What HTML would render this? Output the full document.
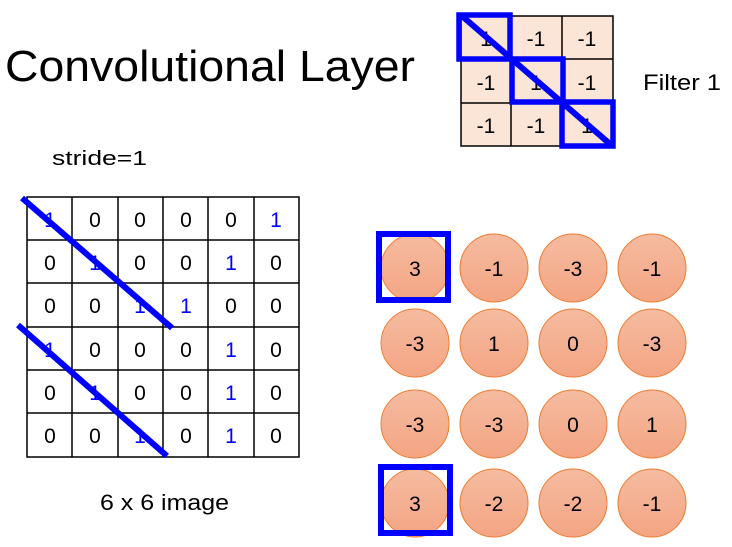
<!DOCTYPE html>
<html><head><style>body{margin:0;background:#fff}svg{display:block}</style></head><body>
<svg width="732" height="547" viewBox="0 0 732 547" xmlns="http://www.w3.org/2000/svg" font-family="Liberation Sans, sans-serif">
<defs>
<linearGradient id="g" x1="0" y1="0" x2="0" y2="1"><stop offset="0" stop-color="#f5bba0"/><stop offset="1" stop-color="#f4a583"/></linearGradient>
</defs>
<text x="5" y="81" font-size="44" textLength="410" lengthAdjust="spacingAndGlyphs">Convolutional Layer</text>
<text x="643" y="90" font-size="22" textLength="78" lengthAdjust="spacingAndGlyphs">Filter 1</text>
<text x="52" y="165" font-size="20" textLength="95" lengthAdjust="spacingAndGlyphs">stride=1</text>
<text x="100" y="510" font-size="22" textLength="129" lengthAdjust="spacingAndGlyphs">6 x 6 image</text>
<!-- filter -->
<rect x="461" y="16" width="152" height="130" fill="#fbe5d6" stroke="#000" stroke-width="1.5"/>
<g stroke="#000" stroke-width="1.5">
<line x1="511" y1="16" x2="511" y2="146"/><line x1="562" y1="16" x2="562" y2="146"/>
<line x1="461" y1="59" x2="613" y2="59"/><line x1="461" y1="103" x2="613" y2="103"/>
</g>
<g font-size="21" text-anchor="middle">
<text x="486" y="46">1</text><text x="536" y="46">-1</text><text x="587" y="46">-1</text>
<text x="486" y="90">-1</text><text x="536" y="90">1</text><text x="587" y="90">-1</text>
<text x="486" y="133">-1</text><text x="536" y="133">-1</text><text x="587" y="133">1</text>
</g>
<g fill="none" stroke="#0000ff" stroke-width="5.5">
<rect x="459" y="15" width="51" height="44"/>
<rect x="512" y="59" width="51" height="43"/>
<rect x="562" y="102" width="51" height="44"/>
</g>
<line x1="462" y1="16" x2="610" y2="144" stroke="#0000ff" stroke-width="6"/>
<!-- image -->
<g stroke="#000" stroke-width="1.5" fill="none">
<rect x="27" y="197" width="272" height="260"/>
<line x1="72" y1="197" x2="72" y2="457"/><line x1="118" y1="197" x2="118" y2="457"/><line x1="163" y1="197" x2="163" y2="457"/><line x1="208" y1="197" x2="208" y2="457"/><line x1="254" y1="197" x2="254" y2="457"/>
<line x1="27" y1="240" x2="299" y2="240"/><line x1="27" y1="283" x2="299" y2="283"/><line x1="27" y1="327" x2="299" y2="327"/><line x1="27" y1="370" x2="299" y2="370"/><line x1="27" y1="413" x2="299" y2="413"/>
</g>
<g font-size="21" text-anchor="middle">
<text x="50" y="227" fill="#00f">1</text><text x="95" y="227">0</text><text x="140" y="227">0</text><text x="186" y="227">0</text><text x="231" y="227">0</text><text x="276" y="227" fill="#00f">1</text>
<text x="50" y="270">0</text><text x="95" y="270" fill="#00f">1</text><text x="140" y="270">0</text><text x="186" y="270">0</text><text x="231" y="270" fill="#00f">1</text><text x="276" y="270">0</text>
<text x="50" y="313">0</text><text x="95" y="313">0</text><text x="140" y="313" fill="#00f">1</text><text x="186" y="313" fill="#00f">1</text><text x="231" y="313">0</text><text x="276" y="313">0</text>
<text x="50" y="357" fill="#00f">1</text><text x="95" y="357">0</text><text x="140" y="357">0</text><text x="186" y="357">0</text><text x="231" y="357" fill="#00f">1</text><text x="276" y="357">0</text>
<text x="50" y="400">0</text><text x="95" y="400" fill="#00f">1</text><text x="140" y="400">0</text><text x="186" y="400">0</text><text x="231" y="400" fill="#00f">1</text><text x="276" y="400">0</text>
<text x="50" y="443">0</text><text x="95" y="443">0</text><text x="140" y="443" fill="#00f">1</text><text x="186" y="443">0</text><text x="231" y="443" fill="#00f">1</text><text x="276" y="443">0</text>
</g>
<g stroke="#0000ff" stroke-width="6">
<line x1="22" y1="198" x2="172" y2="328"/>
<line x1="18" y1="325" x2="167" y2="456"/>
</g>
<!-- output -->
<g fill="url(#g)" stroke="#ed7d31" stroke-width="1">
<circle cx="415" cy="268" r="34"/><circle cx="494" cy="268" r="34"/><circle cx="573" cy="268" r="34"/><circle cx="652" cy="268" r="34"/>
<circle cx="415" cy="343" r="34"/><circle cx="494" cy="343" r="34"/><circle cx="573" cy="343" r="34"/><circle cx="652" cy="343" r="34"/>
<circle cx="415" cy="424" r="34"/><circle cx="494" cy="424" r="34"/><circle cx="573" cy="424" r="34"/><circle cx="652" cy="424" r="34"/>
<circle cx="415" cy="503" r="34"/><circle cx="494" cy="503" r="34"/><circle cx="573" cy="503" r="34"/><circle cx="652" cy="503" r="34"/>
</g>
<g font-size="21" text-anchor="middle">
<text x="415" y="276">3</text><text x="494" y="276">-1</text><text x="573" y="276">-3</text><text x="652" y="276">-1</text>
<text x="415" y="351">-3</text><text x="494" y="351">1</text><text x="573" y="351">0</text><text x="652" y="351">-3</text>
<text x="415" y="432">-3</text><text x="494" y="432">-3</text><text x="573" y="432">0</text><text x="652" y="432">1</text>
<text x="415" y="511">3</text><text x="494" y="511">-2</text><text x="573" y="511">-2</text><text x="652" y="511">-1</text>
</g>
<g fill="none" stroke="#0000ff" stroke-width="6">
<rect x="379" y="234" width="69" height="66"/>
<rect x="381" y="467" width="69" height="66"/>
</g>
</svg>
</body></html>
